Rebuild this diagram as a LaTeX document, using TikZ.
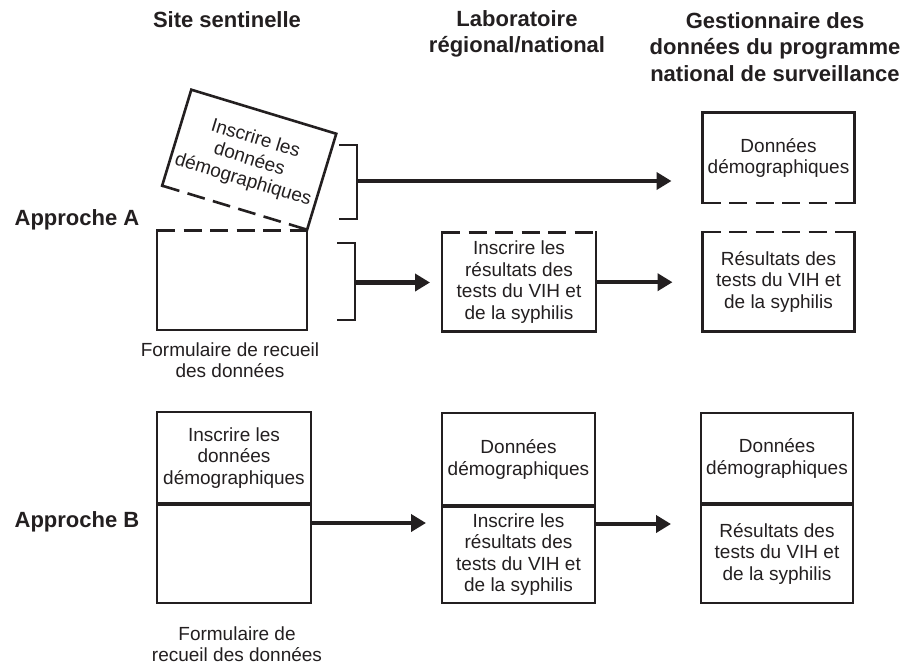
\documentclass[tikz,border=0pt]{standalone}
\usepackage{fontspec}
\setmainfont{Liberation Sans}
\usetikzlibrary{arrows.meta}
\definecolor{ink}{RGB}{35,31,32}
\begin{document}
\begin{tikzpicture}[x=1pt,y=-1pt,
  body/.style={font=\fontsize{19}{21.5}\selectfont, align=center, text=ink},
  head/.style={font=\fontsize{22}{26.5}\selectfont\bfseries, align=center, text=ink},
  box/.style={body, inner sep=0pt, outer sep=0pt},
  edge/.style={draw=ink, line width=2.6pt, line cap=rect, line join=miter},
  dashedge/.style={draw=ink, line width=2.6pt, dash pattern=on 18pt off 8.5pt},
  divider/.style={draw=ink, line width=4pt},
  bracket/.style={draw=ink, line width=2.6pt, line join=miter},
  arr/.style={draw=ink, line width=4.5pt, -{Triangle[length=15pt,width=17pt]}}]
\useasboundingbox (0,0) rectangle (904,664);
\fill[white] (0,0) rectangle (904,664);

% headers
\node[head] (h1) at (227,20) {Site sentinelle};
\node[head] (h2) at (517,34) {Laboratoire\\régional/national};
\node[head] (h3) at (775,47) {Gestionnaire des\\données du programme\\national de surveillance};
\node[head] (apA) at (77,220) {Approche A};
\node[head] (apB) at (77,522) {Approche B};

% ---------------- Approche A ----------------
\node[box, rotate=-16.9, minimum width=151.5pt, minimum height=100.3pt] (tilt) at (249.2,159.7) {Inscrire les\\données\\démographiques};
\draw[edge] (tilt.south west) -- (tilt.north west) -- (tilt.north east) -- (tilt.south east);
\draw[dashedge] (tilt.south west) -- (tilt.south east);

\node[box, minimum width=150pt, minimum height=99.3pt] (formA) at (232,280.4) {};
\draw[edge] (formA.north west) -- (formA.south west) -- (formA.south east) -- (formA.north east);
\draw[dashedge] (formA.north west) -- (formA.north east);
\node[body] (capA) at (230,360) {Formulaire de recueil\\des données};

\node[box, minimum width=152pt, minimum height=90.3pt] (demA) at (778.5,157.9) {Données\\démographiques};
\draw[edge] (demA.south west) -- (demA.north west) -- (demA.north east) -- (demA.south east);
\draw[dashedge] (demA.south west) -- (demA.south east);

\node[box, minimum width=154pt, minimum height=99pt] (labA) at (519,282.2) {Inscrire les\\résultats des\\tests du VIH et\\de la syphilis};
\draw[edge] (labA.north west) -- (labA.south west) -- (labA.south east) -- (labA.north east);
\draw[dashedge] (labA.north west) -- (labA.north east);

\node[box, minimum width=152pt, minimum height=99.7pt] (resA) at (778.5,281.9) {Résultats des\\tests du VIH et\\de la syphilis};
\draw[edge] (resA.north west) -- (resA.south west) -- (resA.south east) -- (resA.north east);
\draw[dashedge] (resA.north west) -- (resA.north east);

% brackets
\coordinate (b1a) at (339,145);
\coordinate (b1b) at (339,219);
\coordinate (b1m) at (357,181);
\draw[bracket] (b1a) -- ++(18,0) -- ++(0,74) -- (b1b);
\coordinate (b2a) at (337,243);
\coordinate (b2b) at (337,320);
\coordinate (b2m) at (355,282.5);
\draw[bracket] (b2a) -- ++(18,0) -- ++(0,77) -- (b2b);

\draw[arr, shorten >=31pt] (b1m) -- (demA.west |- b1m);
\draw[arr, shorten >=12pt] (b2m) -- (labA.west |- b2m);
\draw[arr, shorten >=30pt] (labA.east) -- (resA.west |- labA.east);

% ---------------- Approche B ----------------
\node[box, minimum width=154pt, minimum height=92pt] (formBt) at (234,458) {Inscrire les\\données\\démographiques};
\node[box, minimum width=154pt, minimum height=99pt] (formBb) at (234,553.5) {};
\draw[edge] (formBt.north west) rectangle (formBb.south east);
\draw[divider] (formBt.south west) -- (formBt.south east);
\node[body] (capB) at (237,644) {Formulaire de\\recueil des données};

\node[box, minimum width=153pt, minimum height=93pt] (labBt) at (518.5,459.5) {Données\\démographiques};
\node[box, minimum width=153pt, minimum height=97pt] (labBb) at (518.5,554.5) {Inscrire les\\résultats des\\tests du VIH et\\de la syphilis};
\draw[edge] (labBt.north west) rectangle (labBb.south east);
\draw[divider] (labBt.south west) -- (labBt.south east);

\node[box, minimum width=152pt, minimum height=91pt] (resBt) at (777,458.5) {Données\\démographiques};
\node[box, minimum width=152pt, minimum height=99pt] (resBb) at (777,553.5) {Résultats des\\tests du VIH et\\de la syphilis};
\draw[edge] (resBt.north west) rectangle (resBb.south east);
\draw[divider] (resBt.south west) -- (resBt.south east);

\draw[arr, shorten >=16pt] (formBb.east |- 0,523) -- (labBb.west |- 0,523);
\draw[arr, shorten >=30pt] (labBb.east |- 0,524) -- (resBb.west |- 0,524);
\end{tikzpicture}
\end{document}
